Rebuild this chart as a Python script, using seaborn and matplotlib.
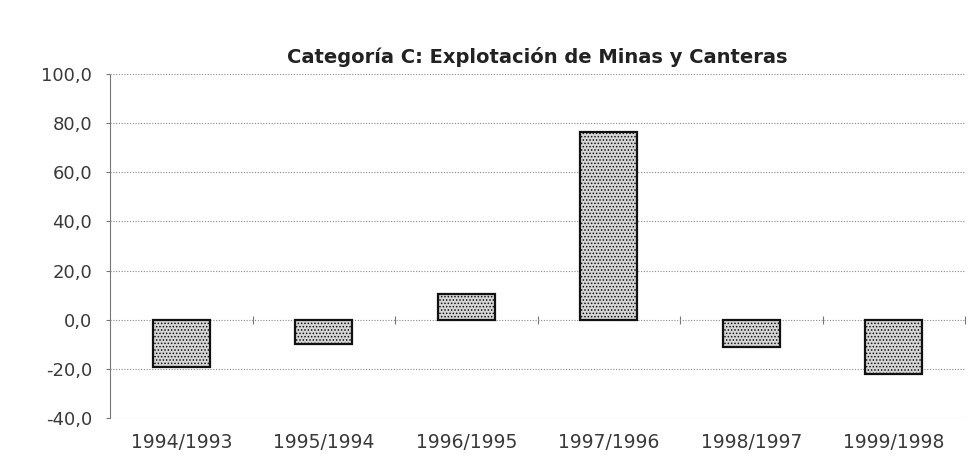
import numpy as np
import pandas as pd
import matplotlib
matplotlib.use("Agg")
import matplotlib.pyplot as plt
import seaborn as sns

# values (variacion %)
periods = ['1994/1993', '1995/1994', '1996/1995', '1997/1996', '1998/1997', '1999/1998']
variation = [-19.3, -9.8, 10.5, 76.5, -11.0, -22.0]
y_ticks = [-40, -20, 0, 20, 40, 60, 80, 100]

title = 'Categoría C: Explotación de Minas y Canteras'


def main():
    sns.set_style('white')
    plt.rcParams['font.family'] = ['DejaVu Sans']
    plt.rcParams['hatch.color'] = '#555555'
    plt.rcParams['hatch.linewidth'] = 0.7

    df = pd.DataFrame({'periodo': periods, 'valor': variation})

    fig = plt.figure(figsize=(9.75, 4.62), dpi=100)
    ax = fig.add_axes([0.113, 0.095, 0.877, 0.745])

    sns.barplot(data=df, x='periodo', y='valor', color='#d6d6d6',
                edgecolor='#111111', linewidth=1.6, width=0.4, ax=ax)
    for bar in ax.patches:
        bar.set_hatch('.....')

    ax.set_ylim(-40, 100)
    ax.set_xlim(-0.5, len(periods) - 0.5)
    ax.set_yticks(y_ticks)
    ax.set_yticklabels([f'{v:.1f}'.replace('.', ',') for v in y_ticks])
    ax.yaxis.grid(True, linestyle=(0, (1, 1.5)), color='#8a8a8a', linewidth=0.8)
    ax.set_axisbelow(True)

    for side in ['top', 'right', 'bottom']:
        ax.spines[side].set_visible(False)
    ax.spines['left'].set_linestyle((0, (1, 1)))
    ax.spines['left'].set_color('#777777')
    ax.spines['left'].set_linewidth(0.8)

    ax.tick_params(axis='y', left=True, length=3, width=0.8, color='#777777',
                   pad=10, labelsize=13, labelcolor='#3a3a3a')
    ax.tick_params(axis='x', bottom=False, pad=7, labelsize=13.5, labelcolor='#3a3a3a')
    ax.set_xlabel('')
    ax.set_ylabel('')

    # small category separator ticks sitting on the zero line
    zero_frac = (0 - (-40)) / (100 - (-40))
    sec = ax.secondary_xaxis(zero_frac)
    sec.set_xticks(np.arange(1, len(periods) + 1) - 0.5)
    sec.tick_params(axis='x', direction='inout', length=6, width=0.8,
                    color='#777777', labelbottom=False, labeltop=False)
    sec.spines['bottom'].set_visible(False)
    sec.spines['top'].set_visible(False)

    ax.set_title(title, fontsize=14, fontweight='bold', color='#222222', pad=8)

    fig.savefig('out.png', dpi=100)


if __name__ == '__main__':
    main()
